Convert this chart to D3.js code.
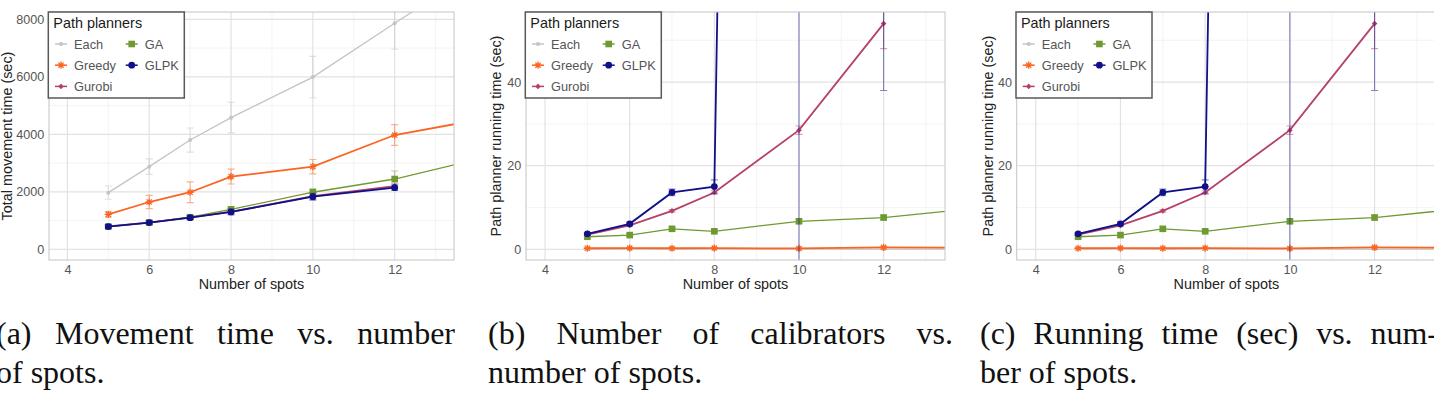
<!DOCTYPE html>
<html>
<head>
<meta charset="utf-8">
<script src="https://cdn.jsdelivr.net/npm/d3@7"></script>
<style>
  body { margin: 0; background: #fff; }
  svg { display: block; font-family: 'Liberation Sans', Arial, sans-serif; }
</style>
</head>
<body>
<div id="app"></div>
<script>
'use strict'

// x values (number of spots); 14 only carries the lines past the right edge
const spots = [5, 6, 7, 8, 10, 12, 14]
const planners = ['Each', 'Greedy', 'Gurobi', 'GA', 'GLPK']
const plannerColors = ['#c4c4c4', '#fc6422', '#b5406c', '#6f9a32', '#10108a']
const plannerShapes = ['dot', 'star', 'diamond', 'square', 'circle']

const xTicks = [4, 6, 8, 10, 12]
const xMinor = [5, 7, 9, 11, 13]

// (a) total movement time (sec): mean and sd
const moveEach = [1970, 2875, 3800, 4580, 5990, 7860, 9730]
const moveEachSd = [230, 270, 420, 530, 720, 900, 0]
const moveGreedy = [1215, 1645, 1985, 2530, 2875, 3975, 4490]
const moveGreedySd = [100, 230, 360, 260, 250, 360, 0]
const moveGurobi = [800, 930, 1110, 1300, 1850, 2200, null]
const moveGurobiSd = [60, 60, 60, 100, 120, 100, 0]
const moveGA = [790, 930, 1115, 1390, 1985, 2445, 3120]
const moveGASd = [50, 60, 60, 100, 120, 280, 0]
const moveGLPK = [790, 930, 1100, 1300, 1830, 2145, null]
const moveGLPKSd = [60, 60, 60, 100, 120, 100, 0]
const moveTicks = [0, 2000, 4000, 6000, 8000]
const moveMinor = [1000, 3000, 5000, 7000]

// (b) and (c) path planner running time (sec): mean and sd
const runEach = [0.05, 0.05, 0.05, 0.05, 0.05, 0.05, 0.05]
const runEachSd = [0, 0, 0, 0, 0, 0, 0]
const runGreedy = [0.25, 0.3, 0.25, 0.3, 0.2, 0.45, 0.4]
const runGreedySd = [0.1, 0.1, 0.1, 0.1, 0.1, 0.2, 0]
const runGurobi = [3.5, 5.7, 9.2, 13.6, 28.5, 54.0, null]
const runGurobiSd = [0.2, 0.3, 0.3, 0.4, 1.0, 6.0, 0]
const runGA = [3.0, 3.4, 4.9, 4.3, 6.7, 7.6, 9.65]
const runGASd = [0.3, 0.3, 0.5, 0.4, 0.5, 0.6, 0]
const runGLPK = [3.7, 6.1, 13.6, 15.0, 1200, 1500, null]
const runGLPKSd = [0.3, 0.4, 0.8, 1.6, 1300, 1462, 0]
const runTicks = [0, 20, 40]
const runMinor = [10, 30, 50]

const captions = [
	['(a) Movement time vs. number', 'of spots.'],
	['(b) Number of calibrators vs.', 'number of spots.'],
	['(c) Running time (sec) vs. num-', 'ber of spots.']
]

const W = 1434
const H = 401

const svg = d3.select('#app').append('svg')
	.attr('width', W)
	.attr('height', H)

const build = (means, sds) => planners.map((p, i) => ({
	name: p,
	color: plannerColors[i],
	shape: plannerShapes[i],
	points: spots.map((s, j) => ({ x: s, y: means[i][j], sd: sds[i][j] }))
		.filter(d => d.y !== null)
}))

const moveSeries = build(
	[moveEach, moveGreedy, moveGurobi, moveGA, moveGLPK],
	[moveEachSd, moveGreedySd, moveGurobiSd, moveGASd, moveGLPKSd])
const runSeries = build(
	[runEach, runGreedy, runGurobi, runGA, runGLPK],
	[runEachSd, runGreedySd, runGurobiSd, runGASd, runGLPKSd])

const drawMarker = (g, shape, color, cx, cy) => {
	if (shape === 'dot') {
		g.append('circle').attr('cx', cx).attr('cy', cy).attr('r', 2).attr('fill', color)
	} else if (shape === 'circle') {
		g.append('circle').attr('cx', cx).attr('cy', cy).attr('r', 3.4).attr('fill', color)
	} else if (shape === 'square') {
		g.append('rect').attr('x', cx - 3.3).attr('y', cy - 3.3)
			.attr('width', 6.6).attr('height', 6.6).attr('fill', color)
	} else if (shape === 'diamond') {
		const s = 2.8
		g.append('path')
			.attr('d', `M${cx},${cy - s}L${cx + s},${cy}L${cx},${cy + s}L${cx - s},${cy}Z`)
			.attr('fill', color)
	} else if (shape === 'star') {
		const s = 3.6, d = 2.6
		g.append('path')
			.attr('d', `M${cx - s},${cy}H${cx + s}M${cx},${cy - s}V${cy + s}` +
				`M${cx - d},${cy - d}L${cx + d},${cy + d}M${cx - d},${cy + d}L${cx + d},${cy - d}`)
			.attr('stroke', color).attr('stroke-width', 1.3).attr('fill', 'none')
	}
}

let clipId = 0

const drawPanel = (cfg) => {
	const x = d3.scaleLinear().domain([3.55, 13.45]).range([cfg.left, cfg.right])
	const y = d3.scaleLinear().domain(cfg.yDomain).range([260, 12])
	const g = svg.append('g')

	// grid
	g.selectAll('.minor-x').data(xMinor).enter().append('line')
		.attr('x1', d => x(d)).attr('x2', d => x(d)).attr('y1', 12).attr('y2', 260)
		.attr('stroke', '#efefef').attr('stroke-width', 0.7)
	g.selectAll('.minor-y').data(cfg.yMinor).enter().append('line')
		.attr('x1', cfg.left).attr('x2', cfg.right).attr('y1', d => y(d)).attr('y2', d => y(d))
		.attr('stroke', '#efefef').attr('stroke-width', 0.7)
	g.selectAll('.major-x').data(xTicks).enter().append('line')
		.attr('x1', d => x(d)).attr('x2', d => x(d)).attr('y1', 12).attr('y2', 260)
		.attr('stroke', '#e2e2e2').attr('stroke-width', 1.2)
	g.selectAll('.major-y').data(cfg.yTicks).enter().append('line')
		.attr('x1', cfg.left).attr('x2', cfg.right).attr('y1', d => y(d)).attr('y2', d => y(d))
		.attr('stroke', '#e2e2e2').attr('stroke-width', 1.2)

	// axes
	g.append('g')
		.attr('transform', 'translate(0,260)')
		.call(d3.axisBottom(x).tickValues(xTicks).tickSize(0).tickPadding(5.5))
		.call(a => a.select('.domain').remove())
		.selectAll('text')
		.attr('font-size', 12.6).attr('fill', '#555').attr('font-family', 'Liberation Sans, Arial, sans-serif')
	g.append('g')
		.attr('transform', `translate(${cfg.left},0)`)
		.call(d3.axisLeft(y).tickValues(cfg.yTicks).tickFormat(d3.format('d')).tickSize(0).tickPadding(4.7))
		.call(a => a.select('.domain').remove())
		.selectAll('text')
		.attr('font-size', 12.6).attr('fill', '#555').attr('font-family', 'Liberation Sans, Arial, sans-serif')

	g.append('text')
		.attr('x', (cfg.left + cfg.right) / 2).attr('y', 289)
		.attr('text-anchor', 'middle').attr('font-size', 14.4).attr('fill', '#222')
		.text('Number of spots')
	g.append('text')
		.attr('transform', `translate(${cfg.titleX},136) rotate(-90)`)
		.attr('text-anchor', 'middle').attr('font-size', 14.4).attr('fill', '#222')
		.text(cfg.yTitle)

	// data
	const id = 'clip' + (clipId++)
	svg.append('clipPath').attr('id', id).append('rect')
		.attr('x', cfg.left).attr('y', 12)
		.attr('width', cfg.right - cfg.left).attr('height', 248)
	const plot = g.append('g').attr('clip-path', `url(#${id})`)

	const line = d3.line().x(d => x(d.x)).y(d => y(d.y))

	cfg.series.forEach(s => {
		const sg = plot.append('g')
		const bars = s.points.filter(d => d.sd > 0)
		sg.selectAll('.err').data(bars).enter().append('path')
			.attr('d', d => {
				const x0 = x(d.x), lo = y(d.y - d.sd), hi = y(d.y + d.sd)
				return `M${x0},${lo}V${hi}M${x0 - 3.5},${lo}H${x0 + 3.5}M${x0 - 3.5},${hi}H${x0 + 3.5}`
			})
			.attr('stroke', s.color).attr('stroke-opacity', 0.5).attr('stroke-width', 1.1).attr('fill', 'none')
		sg.append('path').datum(s.points)
			.attr('d', line)
			.attr('fill', 'none').attr('stroke', s.color)
			.attr('stroke-width', s.name === 'Each' || s.name === 'GA' ? 1.3 : 1.8)
		s.points.forEach(d => drawMarker(sg, s.shape, s.color, x(d.x), y(d.y)))
	})

	// panel border
	g.append('rect')
		.attr('x', cfg.left).attr('y', 12)
		.attr('width', cfg.right - cfg.left).attr('height', 248)
		.attr('fill', 'none').attr('stroke', '#c4c4c4').attr('stroke-width', 1)

	// legend
	const lg = g.append('g').attr('transform', `translate(${cfg.left - 0.7},12)`)
	lg.append('rect').attr('width', 136).attr('height', 86)
		.attr('fill', '#fff').attr('stroke', '#585858').attr('stroke-width', 1.5)
	lg.append('text').attr('x', 5).attr('y', 16)
		.attr('font-size', 14.4).attr('fill', '#1a1a1a').text('Path planners')
	cfg.series.forEach((s, i) => {
		const col = i < 3 ? 0 : 1
		const row = i < 3 ? i : i - 3
		const kx = col === 0 ? 12.7 : 83.4
		const ky = 32 + row * 21.2
		lg.append('line').attr('x1', kx - 6).attr('x2', kx + 6)
			.attr('y1', ky).attr('y2', ky)
			.attr('stroke', s.color).attr('stroke-width', 1.5)
		drawMarker(lg, s.shape, s.color, kx, ky)
		lg.append('text').attr('x', kx + 13).attr('y', ky + 4.5)
			.attr('font-size', 12.8).attr('fill', '#555').text(s.name)
	})
}

drawPanel({ left: 49, right: 454, yDomain: [-372, 8254], yTicks: moveTicks, yMinor: moveMinor,
	yTitle: 'Total movement time (sec)', titleX: 12, series: moveSeries })
drawPanel({ left: 526, right: 945, yDomain: [-2.56, 56.77], yTicks: runTicks, yMinor: runMinor,
	yTitle: 'Path planner running time (sec)', titleX: 501, series: runSeries })
drawPanel({ left: 1016.7, right: 1436, yDomain: [-2.56, 56.77], yTicks: runTicks, yMinor: runMinor,
	yTitle: 'Path planner running time (sec)', titleX: 992.5, series: runSeries })

// sub-captions, first line justified like LaTeX
const capX = [-4, 488, 980]
const capW = [459, 465, 458]

captions.forEach((c, k) => {
	const g = svg.append('g')
		.attr('font-family', 'Liberation Serif, Times New Roman, serif')
		.attr('font-size', 32).attr('fill', '#111')
	const words = c[0].split(' ')
	const texts = g.selectAll('.w').data(words).enter().append('text')
		.attr('class', 'w').attr('y', 344).text(d => d)
	const widths = texts.nodes().map(n => n.getComputedTextLength())
	const gap = (capW[k] - d3.sum(widths)) / (words.length - 1)
	let pos = capX[k]
	texts.attr('x', (d, i) => { const v = pos; pos += widths[i] + gap; return v })
	g.append('text').attr('x', capX[k]).attr('y', 383).text(c[1])
})
</script>
</body>
</html>
